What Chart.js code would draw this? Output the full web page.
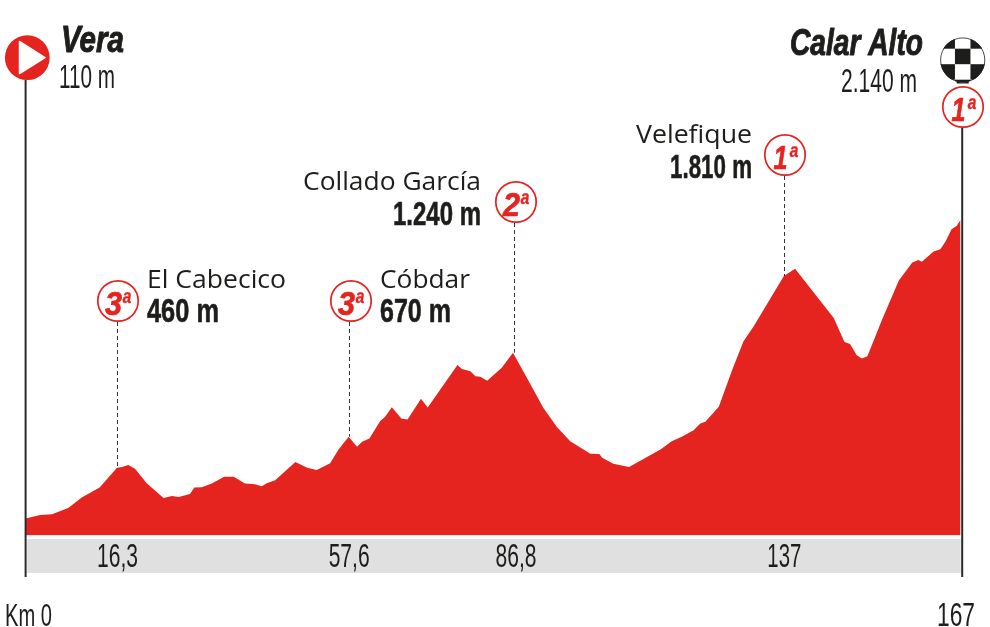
<!DOCTYPE html>
<html>
<head>
<meta charset="utf-8">
<title>Vera - Calar Alto</title>
<script src="https://cdn.jsdelivr.net/npm/chart.js@4"></script>
<style>
  html, body { margin: 0; padding: 0; background: #fff; overflow: hidden; }
  canvas { display: block; }
</style>
</head>
<body>
<canvas id="perfil" width="990" height="627"></canvas>
<script>
// profile: km and metres
const kms = [0, 2.6, 4.7, 7.6, 10, 13.2, 16.3, 17.2, 18.3, 19.5, 21.6, 24.6, 26.1, 27.3, 29.3, 30.1, 31.4, 33.2, 35.4, 37.1,
  39.1, 40.9, 42.1, 43, 44.5, 48.1, 50.2, 51.9, 54.3, 55.8, 57.6, 59.1, 60, 61.3, 63.2, 64.1, 65.3, 67, 68.1, 70.5,
  71.7, 77, 77.8, 79.3, 80.2, 81.1, 82.3, 84.9, 86.9, 89.4, 92.3, 94.7, 97.1, 100.7, 102.3, 102.8, 104.8, 107.6, 113.2, 115.2,
  117, 119.1, 120.3, 121.2, 123.6, 125.9, 128, 129.8, 135.2, 137.2, 144.1, 146, 147, 148.2, 149.1, 150.1, 152.7, 155.7, 158.1, 159.2,
  159.8, 161.9, 163.1, 164, 165.1, 166, 166.7];
const alts = [116, 139, 144, 187, 257, 325, 460, 464, 478, 453, 354, 254, 268, 261, 281, 325, 327, 352, 399, 399,
  352, 347, 334, 354, 374, 498, 460, 444, 490, 584, 670, 602, 636, 658, 775, 805, 870, 794, 787, 927,
  868, 1157, 1130, 1114, 1080, 1076, 1049, 1137, 1240, 1069, 866, 737, 640, 555, 552, 528, 487, 464, 584, 640,
  670, 714, 760, 771, 873, 1114, 1317, 1418, 1760, 1810, 1475, 1313, 1299, 1222, 1200, 1215, 1463, 1729, 1851, 1869,
  1856, 1926, 1942, 1993, 2077, 2100, 2140];

const passKm = [16.3, 57.6, 87, 135.2];
const passAlt = [460, 670, 1240, 1760];
const passTicks = ['16,3', '57,6', '86,8', '137'];
const passCats = ['3', '3', '2', '1'];
const passNames = ['El Cabecico', 'Cóbdar', 'Collado García', 'Velefique'];
const passHeights = ['460 m', '670 m', '1.240 m', '1.810 m'];
const endKm = ['Km 0', '167'];
const startTown = ['Vera', '110 m'];
const finishTown = ['Calar Alto', '2.140 m'];

const RED = '#e5231f', INK = '#1d1d1b';
const NARROW = '"Liberation Sans Narrow", "Liberation Sans"';

// horizontally squeezed text, the original type is very condensed
function txt(ctx, s, x, y, font, width, align, heavy, color) {
  ctx.save();
  ctx.font = font;
  const sx = width / ctx.measureText(s).width;
  ctx.translate(x, y);
  ctx.scale(sx, 1);
  ctx.textAlign = align || 'left';
  ctx.textBaseline = 'alphabetic';
  ctx.fillStyle = ctx.strokeStyle = color || INK;
  if (heavy) { ctx.lineWidth = heavy; ctx.lineJoin = 'round'; ctx.strokeText(s, 0, 0); }
  ctx.fillText(s, 0, 0);
  ctx.restore();
}

function badge(ctx, cat, x, y) {
  ctx.save();
  ctx.beginPath();
  ctx.arc(x, y, 20.2, 0, Math.PI * 2);
  ctx.fillStyle = '#fff';
  ctx.fill();
  ctx.lineWidth = 1.7;
  ctx.strokeStyle = RED;
  ctx.stroke();
  ctx.restore();
  txt(ctx, cat, x - 4.5, y + 13.5, 'italic bold 34px ' + NARROW, cat === '1' ? 14 : 17, 'center', 0.7, RED);
  txt(ctx, 'ª', x + 8, y + 12, 'italic bold 31px ' + NARROW, 9, 'center', 0.3, RED);
}

function flag(ctx, x, y) {
  const r = 22.5, s = 15.5;
  const top = y - 26.8;
  // row by row: columns -1, 0, 1 around the centre square
  const rows = [[1, 0, 1], [0, 1, 0], [1, 0, 1], [0, 1, 0]];
  ctx.save();
  ctx.fillStyle = INK;
  ctx.fillRect(x - 6, y + 20, 12, 3.5);
  ctx.beginPath();
  ctx.arc(x, y, r, 0, Math.PI * 2);
  ctx.fillStyle = '#fff';
  ctx.fill();
  ctx.clip();
  ctx.fillStyle = INK;
  rows.forEach((row, j) => row.forEach((on, i) => {
    if (on) ctx.fillRect(x - s * 1.5 + i * s, top + j * s, s, s);
  }));
  ctx.restore();
  ctx.save();
  ctx.beginPath();
  ctx.arc(x, y, r - 0.4, 0, Math.PI * 2);
  ctx.strokeStyle = INK;
  ctx.lineWidth = 0.8;
  ctx.stroke();
  ctx.restore();
}

const extras = {
  id: 'extras',
  beforeDatasetsDraw(chart) {
    const { ctx, scales: { x } } = chart;
    ctx.fillStyle = '#e0e0e0';
    ctx.fillRect(x.getPixelForValue(0) + 1.5, 539, x.getPixelForValue(167) - x.getPixelForValue(0) - 3, 34);
  },
  afterDatasetsDraw(chart) {
    const { ctx, scales: { x, y } } = chart;
    const x0 = x.getPixelForValue(0), x1 = x.getPixelForValue(167);

    // start and finish masts
    ctx.strokeStyle = '#2b2b2b';
    ctx.lineWidth = 2;
    ctx.beginPath();
    ctx.moveTo(x0, 80); ctx.lineTo(x0, 577);
    ctx.moveTo(x1, 126); ctx.lineTo(x1, 577);
    ctx.stroke();

    // dashed lines up to the category badges
    const badgeY = [301, 301, 202, 155];
    const badgeX = [0.5, 1.5, 1.5, 0.5];
    ctx.lineWidth = 1;
    ctx.strokeStyle = '#333';
    passKm.forEach((km, i) => {
      const px = Math.round(x.getPixelForValue(km)) + 0.5;
      ctx.save();
      ctx.setLineDash([4, 3]);
      ctx.beginPath();
      ctx.moveTo(px, badgeY[i] + 21);
      ctx.lineTo(px, y.getPixelForValue(passAlt[i]));
      ctx.stroke();
      ctx.restore();
      badge(ctx, passCats[i], px + badgeX[i], badgeY[i]);
      txt(ctx, passTicks[i], x.getPixelForValue(km) + [0.5, 0.5, 2.5, 0.5][i], 567, '33px ' + NARROW, passTicks[i].length > 3 ? 41 : 34, 'center');
    });

    // pass names
    const nameFont = '25.5px "Open Sans"', highFont = 'bold 33px ' + NARROW;
    txt(ctx, passNames[0], 147, 288, nameFont, 139);
    txt(ctx, passHeights[0], 147, 322, highFont, 72, 'left', 0.6);
    txt(ctx, passNames[1], 380, 288, nameFont, 90);
    txt(ctx, passHeights[1], 380, 322, highFont, 71, 'left', 0.6);
    txt(ctx, passNames[2], 481, 190, nameFont, 178, 'right');
    txt(ctx, passHeights[2], 481, 225, highFont, 88, 'right', 0.6);
    txt(ctx, passNames[3], 752, 143, nameFont, 116, 'right');
    txt(ctx, passHeights[3], 752, 178, highFont, 82, 'right', 0.6);

    // start marker
    ctx.fillStyle = RED;
    ctx.beginPath();
    ctx.arc(27.3, 57.7, 22.4, 0, Math.PI * 2);
    ctx.fill();
    ctx.fillStyle = '#fff';
    ctx.strokeStyle = '#fff';
    ctx.lineWidth = 1.5;
    ctx.lineJoin = 'round';
    ctx.beginPath();
    ctx.moveTo(19.5, 41.5); ctx.lineTo(45, 57.7); ctx.lineTo(19.5, 73.5); ctx.closePath();
    ctx.fill();
    ctx.stroke();

    // finish marker
    flag(ctx, 962.7, 60);
    badge(ctx, '1', 963, 107);

    txt(ctx, startTown[0], 61, 52, 'italic bold 37px ' + NARROW, 63, 'left', 1);
    txt(ctx, startTown[1], 59, 88, '33px ' + NARROW, 56);
    txt(ctx, finishTown[0], 923, 55, 'italic bold 37px ' + NARROW, 133, 'right', 1);
    txt(ctx, finishTown[1], 917, 92, '33px ' + NARROW, 76, 'right');
    txt(ctx, endKm[0], 5, 626, '32px ' + NARROW, 47);
    txt(ctx, endKm[1], 975, 626, '33px ' + NARROW, 38, 'right');
  }
};

new Chart(document.getElementById('perfil').getContext('2d'), {
  type: 'line',
  data: {
    datasets: [{
      data: kms.map((km, i) => ({ x: km, y: alts[i] })),
      borderWidth: 0,
      pointRadius: 0,
      tension: 0,
      fill: 'start',
      backgroundColor: RED
    }]
  },
  options: {
    responsive: false,
    animation: false,
    layout: { padding: { left: 25.6, right: 27.8, top: 93.2, bottom: 91.5 } },
    plugins: { legend: { display: false }, tooltip: { enabled: false } },
    scales: {
      x: { type: 'linear', min: 0, max: 167, display: false },
      y: { min: 0, max: 3000, display: false }
    }
  },
  plugins: [extras]
});
</script>
</body>
</html>
